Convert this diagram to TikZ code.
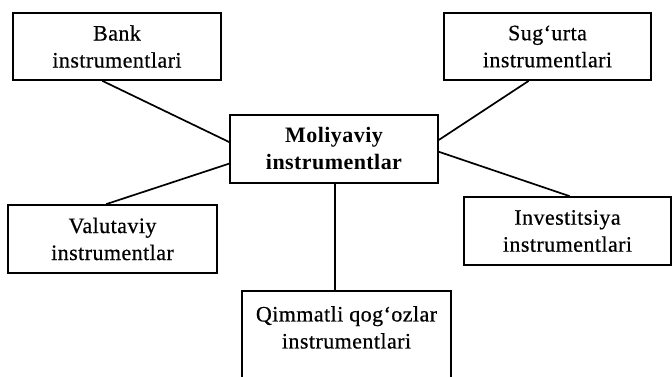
\documentclass[tikz,border=0pt]{standalone}
\usepackage{fontspec}
\setmainfont{Liberation Serif}[LetterSpace=2, FakeBold=0.6, BoldFeatures={FakeBold=0}]
\usetikzlibrary{calc}
\tikzset{
  box/.style={draw, line width=1.7pt, rectangle, align=center, inner sep=0pt,
    font=\fontsize{22}{27}\selectfont},
  hub/.style={box, font=\bfseries\fontsize{22}{27}\selectfont},
  link/.style={line width=1.7pt},
}
\begin{document}
\begin{tikzpicture}[x=1pt, y=-1pt]
  \path[use as bounding box, clip] (0,0) rectangle (672,377);
  % hub in the middle
  \node[hub, minimum width=208pt, minimum height=68pt] (mol) at (334,149)
    {Moliyaviy\\instrumentlar};
  % surrounding groups
  \node[box, minimum width=208pt, minimum height=67pt] (bank) at (117,46.5)
    {Bank\\instrumentlari};
  \node[box, minimum width=207pt, minimum height=67pt] (sug) at (547.5,46.5)
    {Sug‘urta\\instrumentlari};
  \node[box, minimum width=209pt, minimum height=68pt] (val) at (112.5,239)
    {Valutaviy\\instrumentlar};
  \node[box, minimum width=207pt, minimum height=68pt] (inv) at (567.5,231)
    {Investitsiya\\instrumentlari};
  % lower box runs past the bottom edge
  \node[box, minimum width=209pt, minimum height=170pt, anchor=north] (qim) at (346.5,290) {};
  \node[align=center, inner sep=0pt, font=\fontsize{22}{27}\selectfont, anchor=north]
    (qimtext) at ($(qim.north)+(0,16)$) {Qimmatli qog‘ozlar\\instrumentlari};
  % connectors
  \draw[link] ($(bank.south west)!0.43!(bank.south east)$) -- ($(mol.north west)!0.40!(mol.south west)$);
  \draw[link] ($(val.north west)!0.47!(val.north east)$) -- ($(mol.north west)!0.71!(mol.south west)$);
  \draw[link] ($(sug.south west)!0.41!(sug.south east)$) -- ($(mol.north east)!0.37!(mol.south east)$);
  \draw[link] ($(inv.north west)!0.51!(inv.north east)$) -- ($(mol.north east)!0.54!(mol.south east)$);
  \draw[link] ($(mol.south west)!0.505!(mol.south east)$) -- ($(qim.north west)!0.445!(qim.north east)$);
\end{tikzpicture}
\end{document}
